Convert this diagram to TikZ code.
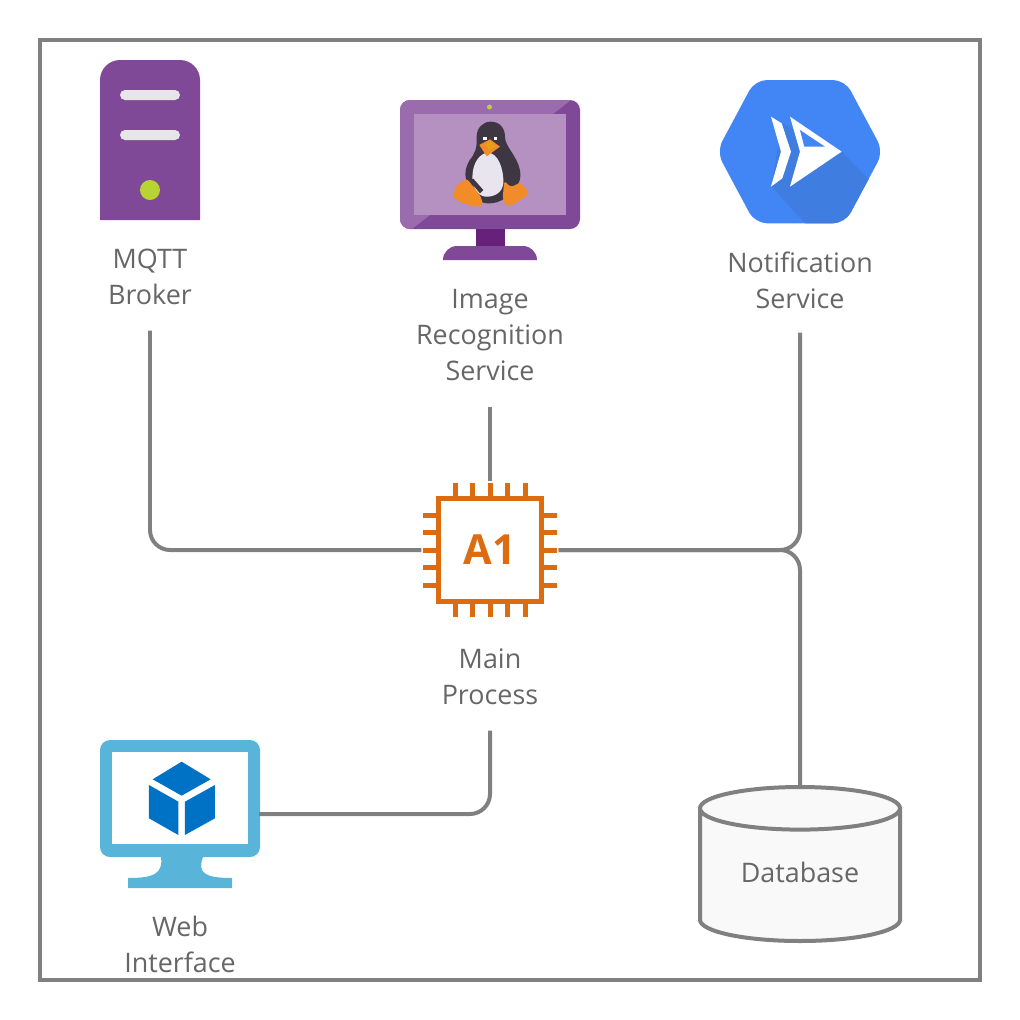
\documentclass[tikz,border=0pt]{standalone}
\usepackage{fontspec}
\setmainfont{Open Sans}
\usetikzlibrary{shapes.geometric}

\definecolor{linegray}{HTML}{808080}
\definecolor{textgray}{HTML}{666666}
\definecolor{plum}{HTML}{804998}
\definecolor{plumlight}{HTML}{9A6BAD}
\definecolor{plumscreen}{HTML}{B491C1}
\definecolor{plumdark}{HTML}{68217A}
\definecolor{lime}{HTML}{B8D432}
\definecolor{barlight}{HTML}{E6E6E6}
\definecolor{gblue}{HTML}{4285F4}
\definecolor{gbluedark}{HTML}{3F7DE0}
\definecolor{chiporange}{HTML}{DD6B10}
\definecolor{skyblue}{HTML}{59B4D9}
\definecolor{cubeblue}{HTML}{0072C6}
\definecolor{tuxdark}{HTML}{3E3743}
\definecolor{tuxbelly}{HTML}{E9E5EE}
\definecolor{tuxfoot}{HTML}{F28C28}
\definecolor{tuxbeak}{HTML}{E3A21A}

\tikzset{
  link/.style={draw=linegray,line width=0.04cm,rounded corners=0.2cm},
  caption/.style={text=textgray,align=center,inner sep=0,
    font=\fontsize{7.65}{10.24}\selectfont,minimum height=#1},
  pin/.style={draw=chiporange,line width=0.05cm},
}

\begin{document}
\begin{tikzpicture}[x=0.1mm,y=-0.1mm]
	\useasboundingbox (0,0) rectangle (1020,1020);

	% outer frame
	\draw[linegray,line width=0.04cm] (40,40) rectangle (980,980);

	% mqtt server
	\fill[plum] (100,220) [rounded corners=0.2cm] -- (100,60) -- (200,60) [sharp corners] -- (200,220) -- cycle;
	\fill[barlight,rounded corners=0.05cm] (120,90) rectangle (180,100);
	\fill[barlight,rounded corners=0.05cm] (120,130) rectangle (180,140);
	\fill[lime] (150,190) circle (0.1cm);
	\node[caption=1.06cm] (brokerlabel) at (150,277) {MQTT\\Broker};

	% linux monitor
	\fill[plum,rounded corners=0.1cm] (400,100) rectangle (580,229);
	\begin{scope}
		\clip[rounded corners=0.1cm] (400,100) rectangle (580,229);
		\fill[plumlight] (400,100) -- (571,100) -- (553,114) -- (414,114) -- (414,215) -- (430,215) -- (412,229) -- (400,229) -- cycle;
	\end{scope}
	\fill[plumscreen] (414,114) rectangle (566,215);
	\fill[lime] (489.5,107) circle (0.025cm);
	\fill[plumdark] (476,229) rectangle (504.5,246);
	\fill[plum] (443,260) [rounded corners=0.14cm] -- (443,246) -- (537,246) [sharp corners] -- (537,260) -- cycle;

	% tux, in crop coordinates
	\begin{scope}[shift={(390,90)},x=0.03333mm,y=-0.03333mm]
		\fill[tuxdark] (302,95) .. controls (330,95) and (345,115) .. (345,140)
			.. controls (345,170) and (380,195) .. (390,240)
			.. controls (394,265) and (388,285) .. (372,295)
			.. controls (350,330) and (320,342) .. (290,340)
			.. controls (265,338) and (250,320) .. (240,285)
			.. controls (222,270) and (222,240) .. (238,212)
			.. controls (255,190) and (262,175) .. (260,140)
			.. controls (260,115) and (278,95) .. (302,95) -- cycle;
		\fill[tuxbelly] (290,188) .. controls (325,185) and (342,240) .. (340,280)
			.. controls (337,310) and (310,322) .. (285,320)
			.. controls (258,315) and (243,285) .. (248,250)
			.. controls (251,220) and (265,195) .. (290,188) -- cycle;
		\fill[tuxdark] (238,272) -- (250,266) -- (280,300) -- (270,310) -- cycle;
		\fill[tuxfoot,rounded corners=0.03cm] (230,265) -- (272,318) -- (280,347) -- (250,350) -- (213,337) -- (188,322) -- (198,288) -- cycle;
		\fill[tuxfoot,rounded corners=0.03cm] (343,272) -- (362,292) -- (392,277) -- (418,310) -- (375,342) -- (350,350) -- (338,325) -- cycle;
		\fill[tuxfoot] (268,165) -- (300,148) -- (330,170) -- (290,199) -- cycle;
		\fill[tuxbeak] (286,163) -- (300,153) -- (318,170) -- (296,180) -- cycle;
		\fill[white] (280,140) rectangle (290,151);
		\fill[white] (311,140) rectangle (322,151);
	\end{scope}
	\node[caption=1.42cm] (imagelabel) at (490,335) {Image\\Recognition\\Service};

	% notification hexagon, in crop coordinates
	\begin{scope}[shift={(710,70)},x=0.03333mm,y=-0.03333mm]
		\fill[gblue,rounded corners=0.12cm] (20,245) -- (135,30) -- (405,30) -- (520,245) -- (405,460) -- (135,460) -- cycle;
		\begin{scope}
			\clip[rounded corners=0.12cm] (20,245) -- (135,30) -- (405,30) -- (520,245) -- (405,460) -- (135,460) -- cycle;
			\fill[gbluedark] (215,160) -- (395,245) -- (480,330) -- (400,470) -- (295,470) -- (185,350) -- cycle;
		\end{scope}
		\fill[white] (183,140) -- (215,160) -- (243,245) -- (217,325) -- (183,350) -- (213,245) -- cycle;
		\fill[white] (240,140) -- (395,245) -- (240,350) -- (270,245) -- cycle;
		\fill[gblue] (270,180) -- (345,230) -- (283,230) -- cycle;
	\end{scope}
	\node[caption=1.04cm] (notifylabel) at (800,280) {Notification\\Service};

	% main chip
	\draw[pin] (438.5,498.5) rectangle (541.5,601.5);
	\foreach \p in {455,472.5,490,507.5,525} {
		\draw[pin] (\p,483) -- (\p,497);
		\draw[pin] (\p,603) -- (\p,617);
	}
	\foreach \p in {515,532.5,550,567.5,585} {
		\draw[pin] (423,\p) -- (437,\p);
		\draw[pin] (543,\p) -- (557,\p);
	}
	\node[minimum size=1.36cm,inner sep=0,text=chiporange,font=\fontsize{11.8}{14}\selectfont\bfseries] (mainchip) at (490,550) {A1};
	\node[caption=1.06cm] (mainlabel) at (490,677) {Main\\Process};

	% web monitor
	\fill[skyblue,rounded corners=0.1cm] (100,740) rectangle (260,857);
	\fill[white] (112,752) rectangle (248,844);
	\fill[skyblue] (161,857) .. controls (163,873) and (155,878) .. (128,878) -- (128,888) -- (232,888) -- (232,878)
		.. controls (205,878) and (197,873) .. (203,857) -- cycle;
	\begin{scope}[shift={(90,730)},x=0.03333mm,y=-0.03333mm]
		\fill[cubeblue] (275,95) -- (362,148) -- (275,197) -- (188,148) -- cycle;
		\fill[cubeblue] (177,165) -- (265,215) -- (265,315) -- (177,265) -- cycle;
		\fill[cubeblue] (285,215) -- (375,165) -- (375,265) -- (285,315) -- cycle;
	\end{scope}
	\coordinate (webport) at (259,814);
	\node[caption=1.06cm] (weblabel) at (180,944) {Web\\Interface};

	% database
	\node[cylinder,shape border rotate=90,aspect=0.36,anchor=shape center,draw=linegray,line width=0.04cm,fill=black!2.5,
		minimum width=2cm,minimum height=1.54cm,inner sep=0,text=textgray,text depth=0.06cm,font=\fontsize{7.65}{10.24}\selectfont] (database) at (800,864) {Database};

	% links
	\draw[link] (brokerlabel.south) |- (mainchip.west);
	\draw[link] (imagelabel.south) -- (mainchip.north);
	\draw[link] (mainchip.east) -| (notifylabel.south);
	\draw[link] (mainchip.east) -| (database.north);
	\draw[link] (mainlabel.south) |- (webport);
\end{tikzpicture}
\end{document}
